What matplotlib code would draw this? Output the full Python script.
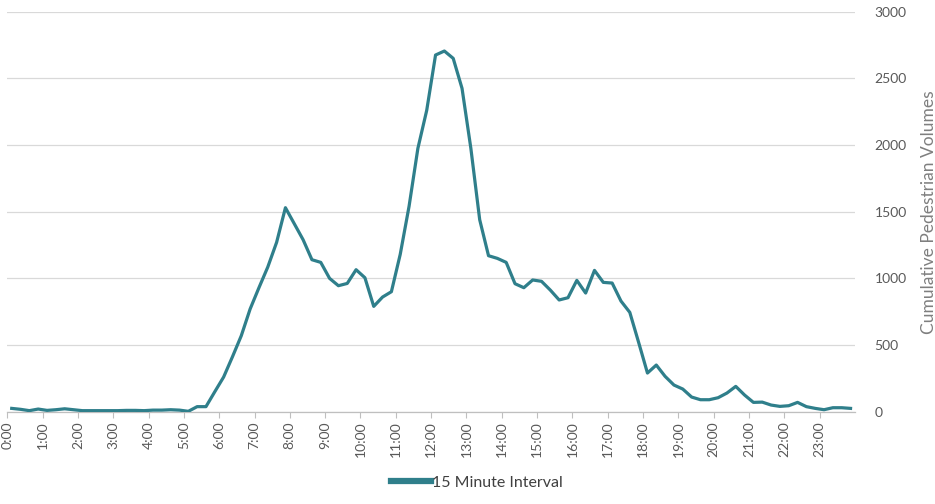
import matplotlib
matplotlib.use("Agg")
import matplotlib.pyplot as plt
import numpy as np

hours = [f"{h}:00" for h in range(24)]
volumes = [
    25, 18, 8, 20, 10, 15, 22, 15,
    8, 8, 8, 8, 8, 10, 10, 8,
    12, 12, 15, 12, 3, 38, 38, 150,
    260, 412, 570, 770, 930, 1085, 1270, 1530,
    1410, 1290, 1140, 1120, 1000, 945, 962, 1065,
    1005, 790, 860, 900, 1180, 1540, 1975, 2260,
    2675, 2705, 2650, 2425, 1975, 1440, 1170, 1150,
    1120, 960, 930, 988, 978, 912, 838, 855,
    985, 890, 1060, 970, 965, 830, 745, 520,
    290, 350, 265, 200, 170, 110, 90, 90,
    105, 140, 190, 125, 70, 72, 50, 40,
    45, 70, 38, 25, 15, 30, 30, 25,
]
series_name = "15 Minute Interval"
y_label = "Cumulative Pedestrian Volumes"

plt.rcParams['font.family'] = ['Lato', 'DejaVu Sans']

fig = plt.figure(figsize=(9.35, 5.04), dpi=100)
ax = fig.add_axes([0.0078, 0.1831, 0.9066, 0.7937])

x = np.arange(len(volumes)) + 0.5
ax.plot(x, volumes, color='#2F7F8B', lw=2.3, solid_joinstyle='round', label=series_name, zorder=3)

ax.set_xlim(0, len(volumes))
ax.set_ylim(0, 3000)
ax.set_yticks(np.arange(0, 3001, 500))
ax.set_xticks(np.arange(0, 96, 4))
ax.set_xticklabels(hours, rotation=90, fontsize=10, color='#595959')
ax.yaxis.tick_right()
ax.yaxis.set_label_position('right')
ax.tick_params(axis='y', length=0, pad=14, labelsize=10, labelcolor='#595959')
ax.tick_params(axis='x', length=4, width=0.8, color='#BFBFBF', pad=3)
ax.grid(axis='y', color='#D9D9D9', lw=0.9)
ax.set_axisbelow(True)
for s in ['top', 'left', 'right']:
    ax.spines[s].set_visible(False)
ax.spines['bottom'].set_color('#BFBFBF')
ax.spines['bottom'].set_linewidth(0.9)
ax.set_ylabel(y_label, fontsize=12.5, color='#7F7F7F', labelpad=10)

leg = fig.legend(handles=[plt.Line2D([], [], color='#2F7F8B', lw=4.5)], labels=[series_name],
                 loc='lower center', bbox_to_anchor=(0.51, 0.0), frameon=False,
                 fontsize=11.5, handlelength=2.5, handletextpad=0.1)
for t in leg.get_texts():
    t.set_color('#404040')

fig.savefig('out.png', dpi=100)
